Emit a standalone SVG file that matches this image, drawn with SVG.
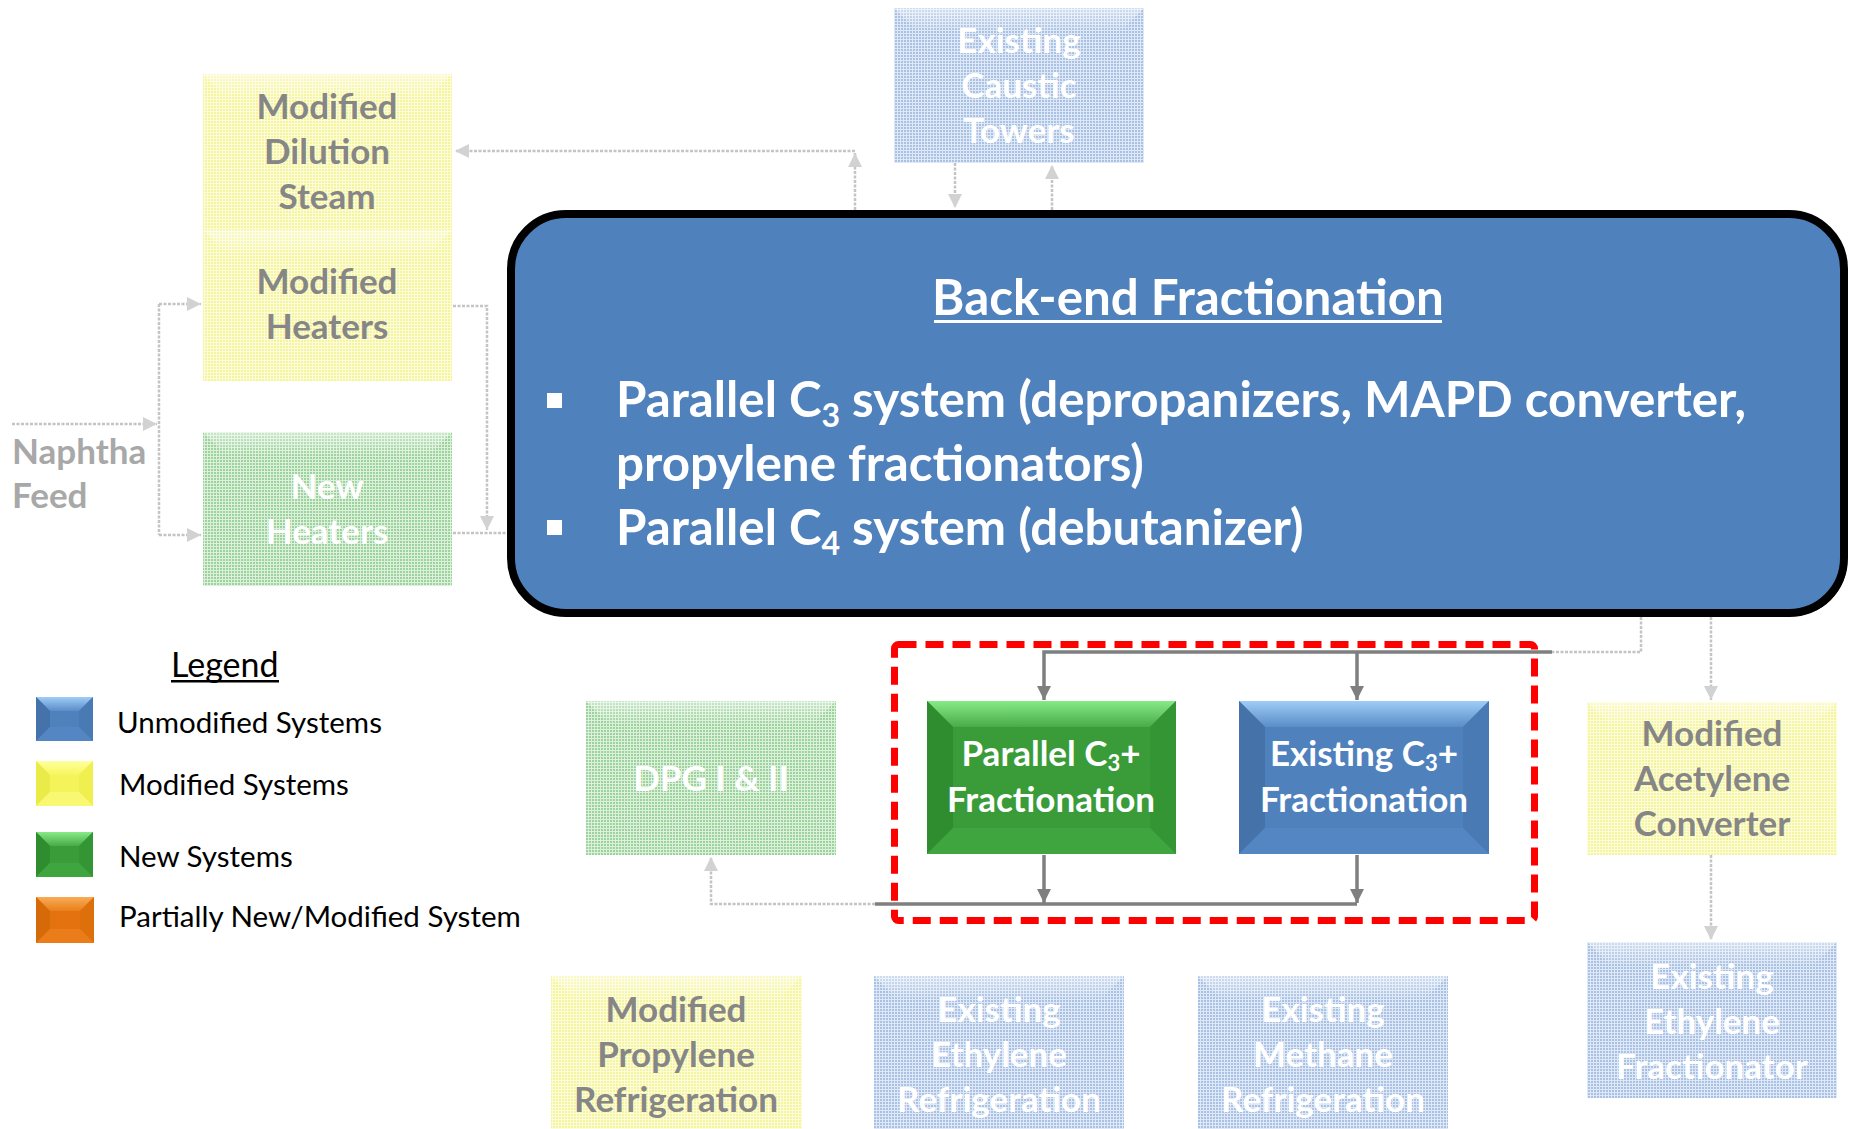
<svg xmlns="http://www.w3.org/2000/svg" width="1850" height="1129" viewBox="0 0 1850 1129">
  <style>
    .lbl { font-family: Lato, "Liberation Sans", sans-serif; font-weight: 700; font-size: 35px; text-anchor: middle; }
    .wt { fill: #ffffff; }
    .gy { fill: #868686; }
    .lg { font-family: Lato, "Liberation Sans", sans-serif; font-size: 29.5px; fill: #000000; }
    .solid { fill: none; stroke: #7f7f7f; stroke-width: 3.5; }
    .faint { fill: none; stroke: #c4c4c4; stroke-width: 2.5; stroke-dasharray: 3 1.5; }
    .bt { font-family: Lato, "Liberation Sans", sans-serif; font-weight: 700; font-size: 49.3px; fill: #ffffff; }
  </style>
  <defs>
    <pattern id="dBlue" width="3" height="3" patternUnits="userSpaceOnUse">
      <rect width="3" height="3" fill="#a9c1e2"/>
      <rect width="1" height="3" fill="#dfe8f6"/>
      <rect width="3" height="1" fill="#dfe8f6"/>
    </pattern>
    <pattern id="dYellow" width="3" height="3" patternUnits="userSpaceOnUse">
      <rect width="3" height="3" fill="#f4f49c"/>
      <rect width="1" height="3" fill="#fdfddc"/>
      <rect width="3" height="1" fill="#fdfddc"/>
    </pattern>
    <pattern id="dGreen" width="3" height="3" patternUnits="userSpaceOnUse">
      <rect width="3" height="3" fill="#9cd29c"/>
      <rect width="1" height="3" fill="#dcf0dc"/>
      <rect width="3" height="1" fill="#dcf0dc"/>
    </pattern>
    <linearGradient id="gTopGreen" x1="0" y1="0" x2="0" y2="1">
      <stop offset="0" stop-color="#86ea86"/>
      <stop offset="1" stop-color="#48ab48"/>
    </linearGradient>
    <linearGradient id="gTopBlue" x1="0" y1="0" x2="0" y2="1">
      <stop offset="0" stop-color="#9fcdf7"/>
      <stop offset="1" stop-color="#5a8cc7"/>
    </linearGradient>
    <linearGradient id="gTopYellow" x1="0" y1="0" x2="0" y2="1">
      <stop offset="0" stop-color="#ffffa0"/>
      <stop offset="1" stop-color="#f6f65c"/>
    </linearGradient>
    <linearGradient id="gTopOrange" x1="0" y1="0" x2="0" y2="1">
      <stop offset="0" stop-color="#f9ab55"/>
      <stop offset="1" stop-color="#e8801c"/>
    </linearGradient>
    <linearGradient id="gTopFade" x1="0" y1="0" x2="0" y2="1">
      <stop offset="0" stop-color="#ffffff" stop-opacity="0.45"/>
      <stop offset="1" stop-color="#ffffff" stop-opacity="0"/>
    </linearGradient>
    <marker id="ahSolid" viewBox="0 0 10 10" refX="10" refY="5" markerUnits="userSpaceOnUse" markerWidth="14" markerHeight="14" orient="auto">
      <path d="M0,0 L10,5 L0,10 z" fill="#7f7f7f"/>
    </marker>
    <marker id="ahFaint" viewBox="0 0 10 10" refX="10" refY="5" markerUnits="userSpaceOnUse" markerWidth="14" markerHeight="14" orient="auto">
      <path d="M0,0 L10,5 L0,10 z" fill="#d2d2d2"/>
    </marker>
  </defs>

  <rect width="1850" height="1129" fill="#ffffff"/>

  <!-- connectors -->
  <g id="connectors">
    <!-- naphtha feed split to the two heater banks -->
    <path class="faint" d="M12,424 H157" marker-end="url(#ahFaint)"/>
    <path class="faint" d="M159,304 V535"/>
    <path class="faint" d="M159,304 H201" marker-end="url(#ahFaint)"/>
    <path class="faint" d="M159,535 H201" marker-end="url(#ahFaint)"/>
    <!-- heater effluent -->
    <path class="faint" d="M453,306 H487 V530" marker-end="url(#ahFaint)"/>
    <path class="faint" d="M453,533 H509"/>
    <!-- back to dilution steam -->
    <path class="faint" d="M855,210 V153" marker-end="url(#ahFaint)"/>
    <path class="faint" d="M855,151 H455" marker-end="url(#ahFaint)"/>
    <!-- caustic towers loop -->
    <path class="faint" d="M955,163 V208" marker-end="url(#ahFaint)"/>
    <path class="faint" d="M1052,210 V165" marker-end="url(#ahFaint)"/>
    <!-- right-hand outlets -->
    <path class="faint" d="M1641,617 V652 H1550"/>
    <path class="faint" d="M1711,617 V700" marker-end="url(#ahFaint)"/>
    <path class="faint" d="M1711,855 V940" marker-end="url(#ahFaint)"/>
    <!-- C3+ feed header -->
    <path class="solid" d="M1552,652 H1044 V700" marker-end="url(#ahSolid)"/>
    <path class="solid" d="M1357,652 V700" marker-end="url(#ahSolid)"/>
    <!-- C3+ product header -->
    <path class="solid" d="M1044,855 V903" marker-end="url(#ahSolid)"/>
    <path class="solid" d="M1357,855 V903" marker-end="url(#ahSolid)"/>
    <path class="solid" d="M1357,904 H875"/>
    <path class="faint" d="M875,904 H711 V857" marker-end="url(#ahFaint)"/>
  </g>

  <!-- faded surrounding units -->
  <g id="dilution-steam">
    <rect x="203" y="74" width="249" height="156" fill="url(#dYellow)"/>
    <polygon points="203,74 452,74 428,98 227,98" fill="url(#gTopFade)"/>
    <text class="lbl gy" x="327" y="119">Modified</text>
    <text class="lbl gy" x="327" y="164">Dilution</text>
    <text class="lbl gy" x="327" y="209">Steam</text>
  </g>
  <g id="modified-heaters">
    <rect x="203" y="230" width="249" height="151" fill="url(#dYellow)"/>
    <polygon points="203,230 452,230 428,254 227,254" fill="url(#gTopFade)"/>
    <text class="lbl gy" x="327" y="294">Modified</text>
    <text class="lbl gy" x="327" y="339">Heaters</text>
  </g>
  <g id="new-heaters">
    <rect x="203" y="432" width="249" height="154" fill="url(#dGreen)"/>
    <polygon points="203,432 452,432 428,456 227,456" fill="url(#gTopFade)"/>
    <text class="lbl wt" x="327" y="499">New</text>
    <text class="lbl wt" x="327" y="544">Heaters</text>
  </g>
  <g id="naphtha-feed">
    <text x="12" y="464" font-family="Lato, 'Liberation Sans', sans-serif" font-weight="700" font-size="35" fill="#a8a8a8">Naphtha</text>
    <text x="12" y="508" font-family="Lato, 'Liberation Sans', sans-serif" font-weight="700" font-size="35" fill="#a8a8a8">Feed</text>
  </g>
  <g id="caustic-towers">
    <rect x="894" y="8" width="250" height="155" fill="url(#dBlue)"/>
    <polygon points="894,8 1144,8 1120,32 918,32" fill="url(#gTopFade)"/>
    <text class="lbl wt" x="1019" y="53">Existing</text>
    <text class="lbl wt" x="1019" y="98">Caustic</text>
    <text class="lbl wt" x="1019" y="143">Towers</text>
  </g>
  <g id="dpg">
    <rect x="586" y="701" width="250" height="154" fill="url(#dGreen)"/>
    <polygon points="586,701 836,701 812,725 610,725" fill="url(#gTopFade)"/>
    <text class="lbl wt" x="711" y="791">DPG I &amp; II</text>
  </g>
  <g id="acetylene-converter">
    <rect x="1587" y="702" width="250" height="153" fill="url(#dYellow)"/>
    <polygon points="1587,702 1837,702 1813,726 1611,726" fill="url(#gTopFade)"/>
    <text class="lbl gy" x="1712" y="746">Modified</text>
    <text class="lbl gy" x="1712" y="791">Acetylene</text>
    <text class="lbl gy" x="1712" y="836">Converter</text>
  </g>
  <g id="ethylene-fractionator">
    <rect x="1587" y="942" width="250" height="156" fill="url(#dBlue)"/>
    <polygon points="1587,942 1837,942 1813,966 1611,966" fill="url(#gTopFade)"/>
    <text class="lbl wt" x="1712" y="989">Existing</text>
    <text class="lbl wt" x="1712" y="1034">Ethylene</text>
    <text class="lbl wt" x="1712" y="1079">Fractionator</text>
  </g>
  <g id="propylene-refrigeration">
    <rect x="551" y="976" width="251" height="153" fill="url(#dYellow)"/>
    <polygon points="551,976 802,976 778,1000 575,1000" fill="url(#gTopFade)"/>
    <text class="lbl gy" x="676" y="1022">Modified</text>
    <text class="lbl gy" x="676" y="1067">Propylene</text>
    <text class="lbl gy" x="676" y="1112">Refrigeration</text>
  </g>
  <g id="ethylene-refrigeration">
    <rect x="874" y="976" width="250" height="153" fill="url(#dBlue)"/>
    <polygon points="874,976 1124,976 1100,1000 898,1000" fill="url(#gTopFade)"/>
    <text class="lbl wt" x="999" y="1022">Existing</text>
    <text class="lbl wt" x="999" y="1067">Ethylene</text>
    <text class="lbl wt" x="999" y="1112">Refrigeration</text>
  </g>
  <g id="methane-refrigeration">
    <rect x="1198" y="976" width="250" height="153" fill="url(#dBlue)"/>
    <polygon points="1198,976 1448,976 1424,1000 1222,1000" fill="url(#gTopFade)"/>
    <text class="lbl wt" x="1323" y="1022">Existing</text>
    <text class="lbl wt" x="1323" y="1067">Methane</text>
    <text class="lbl wt" x="1323" y="1112">Refrigeration</text>
  </g>

  <!-- highlighted C3+ units -->
  <g id="parallel-c3">
    <rect x="927" y="701" width="249" height="153" fill="#399c39"/>
    <polygon points="927,701 1176,701 1150,727 953,727" fill="url(#gTopGreen)"/>
    <polygon points="927,701 953,727 953,828 927,854" fill="#2f8c2f"/>
    <polygon points="1176,701 1176,854 1150,828 1150,727" fill="#349534"/>
    <polygon points="927,854 953,828 1150,828 1176,854" fill="#3fa53f"/>
    <text class="lbl wt" x="1051" y="766">Parallel C<tspan font-size="22" dy="5">3</tspan><tspan dy="-5">+</tspan></text>
    <text class="lbl wt" x="1051" y="812">Fractionation</text>
  </g>
  <g id="existing-c3">
    <rect x="1239" y="701" width="250" height="153" fill="#4f81bd"/>
    <polygon points="1239,701 1489,701 1463,727 1265,727" fill="url(#gTopBlue)"/>
    <polygon points="1239,701 1265,727 1265,828 1239,854" fill="#4573a9"/>
    <polygon points="1489,701 1489,854 1463,828 1463,727" fill="#4a7ab3"/>
    <polygon points="1239,854 1265,828 1463,828 1489,854" fill="#5486c3"/>
    <text class="lbl wt" x="1364" y="766">Existing C<tspan font-size="22" dy="5">3</tspan><tspan dy="-5">+</tspan></text>
    <text class="lbl wt" x="1364" y="812">Fractionation</text>
  </g>

  <!-- scope boundary -->
  <rect id="scope" x="894.5" y="644.5" width="640" height="276" rx="4" fill="none" stroke="#ff0000" stroke-width="7" stroke-dasharray="18 9"/>

  <!-- call-out box -->
  <g id="back-end-fractionation">
    <rect x="514" y="217" width="1333" height="399" rx="55" fill="#000000"/>
    <rect x="511" y="214" width="1333" height="399" rx="55" fill="#4f81bd" stroke="#000000" stroke-width="8"/>
    <text class="bt" x="1188" y="315" text-anchor="middle">Back-end Fractionation</text>
    <rect x="934" y="320" width="508" height="3" fill="#ffffff"/>
    <rect x="547" y="393" width="15" height="15" fill="#ffffff"/>
    <text class="bt" x="616" y="417">Parallel C<tspan font-size="32" dy="10">3</tspan><tspan dy="-10"> system (depropanizers, MAPD converter,</tspan></text>
    <text class="bt" x="616" y="481">propylene fractionators)</text>
    <rect x="547" y="520" width="15" height="15" fill="#ffffff"/>
    <text class="bt" x="616" y="545">Parallel C<tspan font-size="32" dy="10">4</tspan><tspan dy="-10"> system (debutanizer)</tspan></text>
  </g>

  <!-- legend -->
  <g id="legend">
    <text x="171" y="677" font-family="Lato, 'Liberation Sans', sans-serif" font-size="34" fill="#000000">Legend</text>
    <rect x="171" y="680" width="108" height="2.5" fill="#000000"/>

    <g id="legend-unmodified">
      <rect x="36" y="697" width="57" height="44" fill="#4f81bd"/>
      <polygon points="36,697 93,697 79,711 50,711" fill="url(#gTopBlue)"/>
      <polygon points="36,697 50,711 50,727 36,741" fill="#4573a9"/>
      <polygon points="93,697 93,741 79,727 79,711" fill="#4a7ab3"/>
      <polygon points="36,741 50,727 79,727 93,741" fill="#5486c3"/>
      <text class="lg" x="117" y="733">Unmodified Systems</text>
    </g>
    <g id="legend-modified">
      <rect x="36" y="761" width="57" height="45" fill="#f4f45a"/>
      <polygon points="36,761 93,761 79,775 50,775" fill="url(#gTopYellow)"/>
      <polygon points="36,761 50,775 50,792 36,806" fill="#eaea48"/>
      <polygon points="93,761 93,806 79,792 79,775" fill="#efef50"/>
      <polygon points="36,806 50,792 79,792 93,806" fill="#f8f872"/>
      <text class="lg" x="119" y="795">Modified Systems</text>
    </g>
    <g id="legend-new">
      <rect x="36" y="832" width="57" height="45" fill="#399c39"/>
      <polygon points="36,832 93,832 79,846 50,846" fill="url(#gTopGreen)"/>
      <polygon points="36,832 50,846 50,863 36,877" fill="#2f8c2f"/>
      <polygon points="93,832 93,877 79,863 79,846" fill="#349534"/>
      <polygon points="36,877 50,863 79,863 93,877" fill="#3fa53f"/>
      <text class="lg" x="119" y="867">New Systems</text>
    </g>
    <g id="legend-partial">
      <rect x="36" y="897" width="58" height="46" fill="#e4730f"/>
      <polygon points="36,897 94,897 80,911 50,911" fill="url(#gTopOrange)"/>
      <polygon points="36,897 50,911 50,929 36,943" fill="#d66a08"/>
      <polygon points="94,897 94,943 80,929 80,911" fill="#dd700a"/>
      <polygon points="36,943 50,929 80,929 94,943" fill="#ea7d1a"/>
      <text class="lg" x="119" y="927">Partially New/Modified System</text>
    </g>
  </g>
</svg>
